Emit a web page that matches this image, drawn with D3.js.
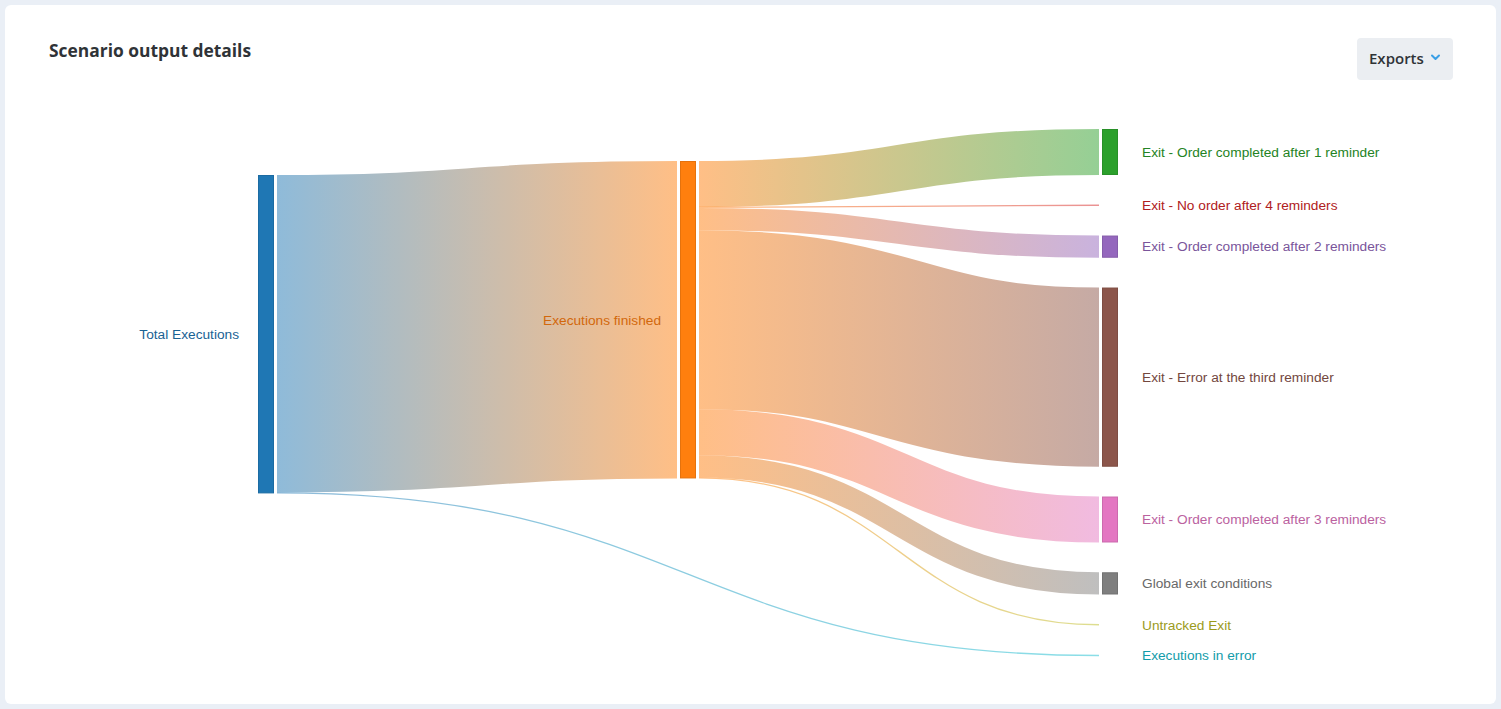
<!DOCTYPE html>
<html>
<head>
<meta charset="utf-8">
<script src="https://cdn.jsdelivr.net/npm/d3@7"></script>
<style>
  html, body { margin: 0; padding: 0; background: #eaeff6; }
  svg { display: block; }
</style>
</head>
<body>
<svg id="chart" width="1501" height="709"></svg>
<script>
// ---- Data ----
const nodeNames = [
  "Total Executions",
  "Executions finished",
  "Exit - Order completed after 1 reminder",
  "Exit - No order after 4 reminders",
  "Exit - Order completed after 2 reminders",
  "Exit - Error at the third reminder",
  "Exit - Order completed after 3 reminders",
  "Global exit conditions",
  "Untracked Exit",
  "Executions in error"
];
const nodeColumns = [0, 1, 2, 2, 2, 2, 2, 2, 2, 2];
const linkSources = [0, 0, 1, 1, 1, 1, 1, 1, 1];
const linkTargets = [1, 9, 2, 3, 4, 5, 6, 7, 8];
const linkValues  = [1001, 3, 145, 3, 70, 565, 145, 70, 3];
const titleText = "Scenario output details";
const buttonText = "Exports";

// ---- Layout settings ----
const W = 1501, H = 709;
const colX = [258, 680, 1102];
const colTop = [175, 161, 129];
const nodeWidth = 16;
const nodePadding = 29.8;
const yExtent = [129, 656];
const linkGap = 3;

const svg = d3.select("#chart");
const color = d3.scaleOrdinal(d3.schemeCategory10).domain(d3.range(nodeNames.length));

// background card
svg.append("rect").attr("x", 0).attr("y", 0).attr("width", W).attr("height", H).attr("fill", "#eaeff6");
svg.append("rect").attr("x", 5).attr("y", 5).attr("width", 1491).attr("height", 699)
  .attr("rx", 6).attr("fill", "#ffffff");

// title
svg.append("text").attr("x", 49).attr("y", 57)
  .attr("font-family", "'Open Sans', sans-serif").attr("font-weight", 700)
  .attr("font-size", 17.4).attr("fill", "#2f3337").text(titleText);

// exports button
const btn = svg.append("g");
btn.append("rect").attr("x", 1357).attr("y", 38).attr("width", 96).attr("height", 42)
  .attr("rx", 4).attr("fill", "#ebeef2");
btn.append("text").attr("x", 1369).attr("y", 64)
  .attr("font-family", "'Open Sans', sans-serif").attr("font-weight", 600)
  .attr("font-size", 15).attr("fill", "#2f3337").text(buttonText);
btn.append("path").attr("d", "M1432,55.5 L1435.5,59 L1439,55.5")
  .attr("fill", "none").attr("stroke", "#3a9fe6").attr("stroke-width", 2)
  .attr("stroke-linecap", "round").attr("stroke-linejoin", "round");

// ---- Build graph ----
const nodes = nodeNames.map((name, i) => ({ index: i, name, col: nodeColumns[i], out: [], inc: [] }));
const links = linkValues.map((v, i) => ({ source: nodes[linkSources[i]], target: nodes[linkTargets[i]], value: v }));
links.forEach(l => { l.source.out.push(l); l.target.inc.push(l); });
nodes.forEach(n => {
  n.value = Math.max(d3.sum(n.out, l => l.value), d3.sum(n.inc, l => l.value));
});

// value scale (ky) from the densest column
const columns = d3.groups(nodes, n => n.col).map(d => d[1]);
const ky = d3.min(columns, c => (yExtent[1] - yExtent[0] - (c.length - 1) * nodePadding) / d3.sum(c, n => n.value));
const hScale = d3.scaleLinear().domain([0, 1]).range([0, ky]);

columns.forEach(col => {
  let y = colTop[col[0].col];
  col.forEach(n => {
    n.x0 = colX[n.col]; n.x1 = n.x0 + nodeWidth;
    n.y0 = y; n.y1 = y + hScale(n.value);
    y = n.y1 + nodePadding;
  });
});

// link positions
nodes.forEach(n => {
  let y = n.y0;
  n.out.sort((a, b) => a.target.y0 - b.target.y0).forEach(l => {
    l.width = hScale(l.value); l.y0 = y + l.width / 2; y += l.width;
  });
  y = n.y0;
  n.inc.sort((a, b) => a.source.y0 - b.source.y0).forEach(l => {
    l.y1 = y + l.width / 2; y += l.width;
  });
});

// ---- Links ----
const defs = svg.append("defs");
const linkGen = d3.linkHorizontal()
  .source(d => [d.source.x1 + linkGap, d.y0])
  .target(d => [d.target.x0 - linkGap, d.y1]);

links.forEach((l, i) => {
  const g = defs.append("linearGradient").attr("id", "lg" + i)
    .attr("gradientUnits", "userSpaceOnUse")
    .attr("x1", l.source.x1 + linkGap).attr("x2", l.target.x0 - linkGap)
    .attr("y1", 0).attr("y2", 0);
  g.append("stop").attr("offset", "0%").attr("stop-color", color(l.source.index));
  g.append("stop").attr("offset", "100%").attr("stop-color", color(l.target.index));
});

svg.append("g").attr("fill", "none")
  .selectAll("path").data(links).join("path")
  .attr("d", linkGen)
  .attr("stroke", (d, i) => `url(#lg${i})`)
  .attr("stroke-opacity", 0.5)
  .attr("stroke-width", d => Math.max(1.3, d.width));

// ---- Nodes ----
svg.append("g").selectAll("rect").data(nodes.filter(n => n.y1 - n.y0 >= 2)).join("rect")
  .attr("x", d => d.x0 + 0.5).attr("y", d => d.y0 + 0.5)
  .attr("width", nodeWidth - 1).attr("height", d => d.y1 - d.y0 - 1)
  .attr("fill", d => color(d.index))
  .attr("stroke", d => d3.color(color(d.index)).darker(0.3))
  .attr("stroke-width", 1);

// ---- Labels ----
svg.append("g").selectAll("text").data(nodes).join("text")
  .attr("x", d => d.col < 2 ? d.x0 - 19 : d.x1 + 24)
  .attr("y", d => (d.y0 + d.y1) / 2)
  .attr("dy", "0.35em")
  .attr("text-anchor", d => d.col < 2 ? "end" : "start")
  .attr("font-family", "'Liberation Sans', Arial, sans-serif")
  .attr("font-size", 13.7)
  .attr("fill", d => d3.color(color(d.index)).darker(0.55))
  .text(d => d.name);
</script>
</body>
</html>
